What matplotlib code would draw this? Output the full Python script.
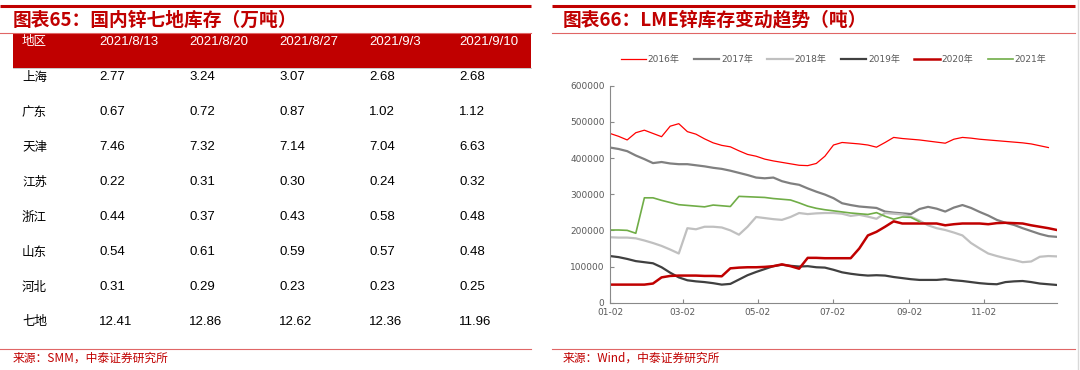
import numpy as np
import pandas as pd
import matplotlib
matplotlib.use("Agg")
import matplotlib.pyplot as plt
import matplotlib.dates as mdates
from matplotlib.patches import Rectangle

plt.rcParams['font.family'] = ['DejaVu Sans', 'Noto Sans CJK SC']

# ---- left table data (万吨) ----
table_dates = ['2021/8/13', '2021/8/20', '2021/8/27', '2021/9/3', '2021/9/10']
regions = ['上海', '广东', '天津', '江苏', '浙江', '山东', '河北', '七地']
stock_table = [
    ['2.77', '3.24', '3.07', '2.68', '2.68'],
    ['0.67', '0.72', '0.87', '1.02', '1.12'],
    ['7.46', '7.32', '7.14', '7.04', '6.63'],
    ['0.22', '0.31', '0.30', '0.24', '0.32'],
    ['0.44', '0.37', '0.43', '0.58', '0.48'],
    ['0.54', '0.61', '0.59', '0.57', '0.48'],
    ['0.31', '0.29', '0.23', '0.23', '0.25'],
    ['12.41', '12.86', '12.62', '12.36', '11.96'],
]

# ---- right chart data: LME zinc stocks, thousand tonnes, weekly ----
weeks = pd.date_range('2021-01-02', '2021-12-31', periods=53)

lme_2016 = [468, 460, 450, 470, 477, 468, 459, 488, 495, 473, 466, 453, 442, 435,
            431, 420, 410, 405, 397, 392, 388, 384, 380, 379, 385, 405, 436, 443,
            441, 439, 436, 430, 443, 457, 454, 452, 450, 447, 444, 441, 452, 457,
            455, 452, 450, 448, 446, 444, 442, 439, 434, 429, np.nan]
lme_2017 = [429, 425, 419, 407, 397, 386, 389, 385, 383, 383, 380, 377, 373, 370,
            365, 359, 353, 346, 344, 346, 336, 330, 326, 316, 307, 299, 289, 275,
            270, 266, 264, 262, 252, 249, 247, 245, 259, 265, 260, 252, 263, 270,
            262, 251, 241, 229, 221, 215, 206, 198, 190, 184, 182]
lme_2018 = [181, 180, 180, 178, 172, 165, 157, 147, 136, 206, 203, 210, 210, 208,
            200, 188, 210, 237, 234, 231, 229, 237, 248, 245, 247, 248, 248, 246,
            240, 243, 238, 232, 248, 246, 244, 238, 227, 214, 206, 201, 194, 186,
            165, 150, 136, 129, 123, 118, 112, 114, 127, 129, 128]
lme_2019 = [129, 126, 121, 115, 112, 109, 98, 83, 70, 62, 59, 57, 54, 50,
            52, 64, 76, 85, 93, 101, 105, 102, 100, 101, 98, 97, 91, 84,
            80, 77, 75, 76, 75, 71, 68, 65, 63, 63, 63, 65, 62, 60,
            57, 54, 52, 51, 57, 59, 60, 57, 53, 51, 49]
lme_2020 = [50, 50, 50, 50, 50, 53, 70, 74, 75, 75, 75, 74, 74, 73,
            95, 97, 98, 98, 99, 101, 106, 101, 94, 124, 124, 123, 123, 123,
            123, 150, 186, 196, 210, 225, 219, 219, 219, 219, 219, 214, 217, 219,
            219, 219, 217, 220, 221, 220, 219, 214, 210, 206, 201]
lme_2021 = [201, 201, 200, 192, 290, 290, 283, 277, 271, 269, 267, 265, 270, 268,
            266, 294, 293, 292, 291, 288, 286, 284, 276, 267, 261, 257, 254, 251,
            248, 246, 244, 249, 239, 231, 237, 236, 224] + [np.nan] * 16

series = [
    ('2016年', lme_2016, '#FF0000', 0.9),
    ('2017年', lme_2017, '#808080', 1.6),
    ('2018年', lme_2018, '#C0C0C0', 1.6),
    ('2019年', lme_2019, '#404040', 1.6),
    ('2020年', lme_2020, '#C00000', 1.8),
    ('2021年', lme_2021, '#70AD47', 1.2),
]

fig = plt.figure(figsize=(10.8, 3.7), dpi=100)

# background layer in pixel coordinates for titles, rules and the table
bg = fig.add_axes([0, 0, 1, 1])
bg.set_xlim(0, 1080)
bg.set_ylim(370, 0)
bg.axis('off')

red = '#C00000'
rule = '#E06666'
cjk = ['Noto Sans CJK SC', 'DejaVu Sans']
arial = ['Liberation Sans', 'DejaVu Sans']

for x0, x1 in [(0, 531), (552, 1075)]:
    bg.plot([x0, x1], [5.5, 5.5], color=red, lw=2.2, solid_capstyle='butt')
    bg.plot([x0, x1], [32.5, 32.5], color=rule, lw=0.8)
    bg.plot([x0, x1], [348.5, 348.5], color=rule, lw=0.8)
bg.plot([1078, 1078], [0, 370], color='#D9D9D9', lw=1)

bg.text(13, 20, '图表65：国内锌七地库存（万吨）', color=red, fontsize=13.5,
        fontweight='bold', family=cjk, va='center', ha='left')
bg.text(563, 20, '图表66：LME锌库存变动趋势（吨）', color=red, fontsize=13.5,
        fontweight='bold', family=cjk, va='center', ha='left')
bg.text(13, 358, '来源：SMM，中泰证券研究所', color=red, fontsize=8.5,
        family=cjk, va='center', ha='left')
bg.text(563, 358, '来源：Wind，中泰证券研究所', color=red, fontsize=8.5,
        family=cjk, va='center', ha='left')

# table
bg.add_patch(Rectangle((13, 32.5), 518, 35.5, facecolor=red, edgecolor='none'))
bg.plot([13, 531], [68, 68], color='#BFBFBF', lw=0.6)
col_x = [99, 189, 279, 369, 459]
bg.text(22, 42, '地区', color='white', fontsize=9, family=cjk, va='center')
for x, d in zip(col_x, table_dates):
    bg.text(x, 42, d, color='white', fontsize=9.5, family=arial, va='center')
for i, (name, row) in enumerate(zip(regions, stock_table)):
    y = 77 + i * 35
    bg.text(22, y, name, color='black', fontsize=9, family=cjk, va='center')
    for x, v in zip(col_x, row):
        bg.text(x, y, v, color='black', fontsize=9.5, family=arial, va='center')

# line chart
ax = fig.add_axes([610 / 1080, (370 - 302.7) / 370, 447 / 1080, 217 / 370])
for label, vals, color, lw in series:
    ax.plot(weeks, np.array(vals) * 1000, color=color, lw=lw, label=label)

ax.set_ylim(0, 600000)
ax.set_yticks(range(0, 600001, 100000))
ax.set_xlim(pd.Timestamp('2021-01-02'), pd.Timestamp('2021-12-31'))
ax.set_xticks(pd.to_datetime(['2021-01-02', '2021-03-02', '2021-05-02',
                              '2021-07-02', '2021-09-02', '2021-11-02']))
ax.xaxis.set_major_formatter(mdates.DateFormatter('%m-%d'))
for s in ['top', 'right']:
    ax.spines[s].set_visible(False)
for s in ['left', 'bottom']:
    ax.spines[s].set_color('#898989')
    ax.spines[s].set_linewidth(0.8)
ax.tick_params(direction='in', length=3, color='#898989', labelsize=6.5,
               labelcolor='#595959', pad=4)
ax.set_facecolor('none')

ax.legend(loc='center', bbox_to_anchor=(0.5, 1.12), ncol=6, frameon=False,
          fontsize=6.5, handlelength=2.8, handletextpad=0.2, columnspacing=1.6,
          labelcolor='#595959')

fig.savefig('out.png', dpi=100)
